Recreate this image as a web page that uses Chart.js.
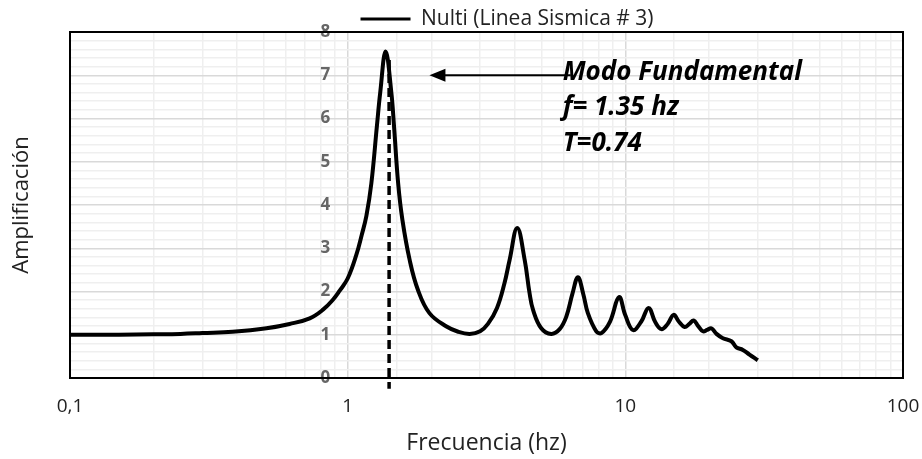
<!DOCTYPE html>
<html>
<head>
<meta charset="utf-8">
<script src="https://cdn.jsdelivr.net/npm/chart.js@4"></script>
<style>
  html, body { margin: 0; background: #fff; }
</style>
</head>
<body>
<canvas id="chart" width="922" height="459"></canvas>
<script>
/* ── data ── */
const SERIES_LABEL = 'Nulti (Linea Sismica # 3)';
const FREQ = [0.1, 0.15, 0.2, 0.25, 0.3, 0.385, 0.51, 0.618, 0.73, 0.815, 0.885, 0.936, 1.0, 1.075, 1.123, 1.168, 1.217, 1.275, 1.31,
  1.37, 1.436, 1.468, 1.52, 1.575, 1.672, 1.79, 1.97, 2.27, 2.5, 2.75, 3.0, 3.2, 3.45, 3.67, 3.83, 4.08, 4.34, 4.52, 4.65,
  4.98, 5.41, 5.8, 6.13, 6.45, 6.75, 7.05, 7.33, 7.86, 8.2, 8.8, 9.49, 10.0, 10.65, 11.4, 12.13, 12.8, 13.48, 14.2, 14.93,
  15.6, 16.35, 17.0, 17.62, 18.3, 19.03, 19.7, 20.4, 21.3, 22.46, 24.1, 25.1, 26.5, 28.0, 30.0];
const AMP = [1.0, 1.0, 1.01, 1.02, 1.04, 1.07, 1.15, 1.25, 1.38, 1.58, 1.81, 2.02, 2.3, 2.85, 3.3, 3.75, 4.5, 5.84, 6.6,
  7.55, 6.61, 5.84, 4.5, 3.65, 2.73, 2.04, 1.5, 1.19, 1.07, 1.02, 1.08, 1.25, 1.62, 2.19, 2.73, 3.47, 2.73, 1.96, 1.58,
  1.15, 1.02, 1.13, 1.42, 1.95, 2.33, 1.95, 1.5, 1.08, 1.04, 1.3, 1.87, 1.45, 1.11, 1.3, 1.62, 1.3, 1.13, 1.25, 1.46,
  1.3, 1.18, 1.25, 1.33, 1.2, 1.08, 1.11, 1.15, 1.02, 0.92, 0.85, 0.71, 0.65, 0.54, 0.41];

// dashed marker of the fundamental mode
const MODE_X = [1.41, 1.41];
const MODE_Y = [7.35, -0.25];

// arrow + note
const ARROW_X = [1.97, 5.95];
const ARROW_Y = 7;
const NOTE_LINES = ['Modo Fundamental', 'f= 1.35 hz', 'T=0.74'];
const NOTE_Y = [7.07, 6.26, 5.41];

const X_TICKS = [0.1, 1, 10, 100];
const X_TICK_LABELS = ['0,1', '1', '10', '100'];
const Y_TICKS = [0, 1, 2, 3, 4, 5, 6, 7, 8];

const FONT = '"Open Sans", "Liberation Sans", sans-serif';

function isDecade(v) { const l = Math.log10(v); return Math.abs(l - Math.round(l)) < 1e-6; }
function isWhole(v) { return Math.abs(v - Math.round(v)) < 1e-6; }

/* legend sits right of centre in the original; frame + arrow + note drawn over scales */
const extras = {
  id: 'extras',
  afterLayout(chart) {
    chart.legend.left += 111;
    chart.legend.top += 7.5;
  },
  beforeDatasetsDraw(chart) {
    const { ctx, chartArea: a } = chart;
    ctx.save();
    ctx.strokeStyle = '#000';
    ctx.lineWidth = 2;
    ctx.strokeRect(a.left, a.top, a.right - a.left, a.bottom - a.top);
    ctx.restore();
  },
  afterDatasetsDraw(chart) {
    const { ctx, scales: { x, y } } = chart;
    const yA = y.getPixelForValue(ARROW_Y);
    const x0 = x.getPixelForValue(ARROW_X[0]), x1 = x.getPixelForValue(ARROW_X[1]);
    ctx.save();
    ctx.strokeStyle = '#000';
    ctx.fillStyle = '#000';
    ctx.lineWidth = 2;
    ctx.beginPath(); ctx.moveTo(x0 + 10, yA); ctx.lineTo(x1 + 8, yA); ctx.stroke();
    ctx.beginPath(); ctx.moveTo(x0, yA); ctx.lineTo(x0 + 16, yA - 6.5); ctx.lineTo(x0 + 16, yA + 6.5); ctx.closePath(); ctx.fill();
    ctx.font = 'italic bold 26px ' + FONT;
    ctx.textBaseline = 'middle';
    ctx.textAlign = 'left';
    NOTE_LINES.forEach((t, i) => ctx.fillText(t, x1, y.getPixelForValue(NOTE_Y[i])));
    ctx.restore();
  }
};

new Chart(document.getElementById('chart'), {
  type: 'line',
  data: {
    datasets: [
      { label: SERIES_LABEL, data: FREQ.map((f, i) => ({ x: f, y: AMP[i] })),
        borderColor: '#000', backgroundColor: '#000', borderWidth: 4, pointRadius: 0,
        tension: 0.4 },
      { label: '', data: MODE_X.map((f, i) => ({ x: f, y: MODE_Y[i] })),
        borderColor: '#000', borderWidth: 3.5, borderDash: [9, 5], pointRadius: 0, tension: 0, clip: false }
    ]
  },
  options: {
    responsive: false,
    animation: false,
    layout: { padding: { right: 19 } },
    plugins: {
      tooltip: { enabled: false },
      legend: {
        position: 'top',
        labels: {
          boxWidth: 50, boxHeight: 3, padding: 1, color: '#222',
          font: { family: FONT, size: 21 },
          generateLabels: chart => Chart.defaults.plugins.legend.labels.generateLabels(chart)
            .filter(l => l.datasetIndex === 0).map(l => Object.assign(l, { lineWidth: 0 }))
        }
      }
    },
    scales: {
      x: {
        type: 'logarithmic', min: 0.1, max: 100,
        afterFit: s => { s.height = 81; s.paddingRight = 0; },
        border: { display: false },
        grid: { drawTicks: false, lineWidth: 1.5, color: c => isDecade(c.tick.value) ? '#d9d9d9' : '#efefef' },
        ticks: {
          autoSkip: false, maxRotation: 0, padding: 17.3, color: '#222',
          font: { family: FONT, size: 19 },
          callback: v => { const i = X_TICKS.findIndex(t => Math.abs(t - v) < 1e-9); return i >= 0 ? X_TICK_LABELS[i] : ''; }
        },
        title: { display: true, text: 'Frecuencia (hz)', color: '#222', font: { family: FONT, size: 23 }, padding: { top: 0, bottom: 2.2 } }
      },
      y: {
        type: 'linear', position: 'left', min: 0, max: 8,
        afterFit: s => { s.width = 70; },
        border: { display: false },
        grid: { drawTicks: false, lineWidth: 1.5, color: c => isWhole(c.tick.value) ? '#d9d9d9' : '#efefef' },
        ticks: { display: false, stepSize: 0.2, maxTicksLimit: 100 },
        title: { display: true, text: 'Amplificación', color: '#222', font: { family: FONT, size: 22 }, padding: { top: 8.8, bottom: 0 } }
      },
      yLabels: {
        type: 'linear', position: { x: 0.865 }, min: 0, max: 8,
        afterFit: s => { s.width = 0; },
        border: { display: false },
        grid: { display: false },
        afterBuildTicks: s => { s.ticks = Y_TICKS.map(v => ({ value: v })); },
        ticks: { color: '#666', padding: 3, font: { family: FONT, size: 17, weight: 'bold' } }
      }
    }
  },
  plugins: [extras]
});
</script>
</body>
</html>
